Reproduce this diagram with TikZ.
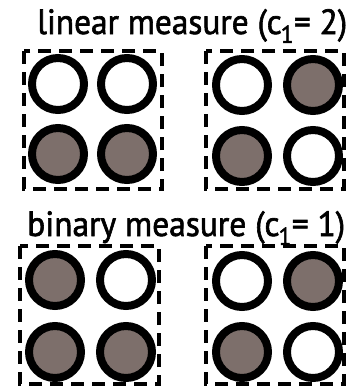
\documentclass[tikz,border=0pt]{standalone}
\usepackage{fontspec}
\setmainfont{PT Sans}
\newfontfamily\ttlfont{PT Sans}[FakeBold=1.8]
\begin{document}
\begin{tikzpicture}[x=1pt,y=-1pt,
  ttl/.style={font=\fontsize{35}{37}\selectfont\ttlfont, inner sep=0pt, anchor=base west},
  dbox/.style={draw, line width=3.8pt, dash pattern=on 13pt off 8pt},
  ball/.style={circle, draw, line width=8pt, minimum size=52pt, inner sep=0pt},
  full/.style={ball, fill=fillc},
  empty/.style={ball, fill=white}]
\definecolor{fillc}{HTML}{7D6F6B}
\useasboundingbox (0,0) rectangle (354,389);
% titles
\node[ttl] (t1) at (37,34) {\resizebox{310pt}{\height}{linear measure (c\kern-1pt\textsubscript{1}= 2)}};
\node[ttl] (t2) at (27,236) {\resizebox{318pt}{\height}{binary measure (c\kern-1pt\textsubscript{1}= 1)}};
% boxes
\draw[dbox] (24,51) rectangle (162,189);
\draw[dbox] (206,51) rectangle (344,189);
\draw[dbox] (20,246) rectangle (159,384);
\draw[dbox] (206,246) rectangle (344,384);
% box 1
\node[empty] (a1) at (58,84) {};
\node[empty] (a2) at (127,84) {};
\node[full] (a3) at (58,154) {};
\node[full] (a4) at (127,154) {};
% box 2
\node[empty] (b1) at (242,85) {};
\node[full] (b2) at (313,85) {};
\node[full] (b3) at (242,156) {};
\node[empty] (b4) at (313,156) {};
% box 3
\node[full] (c1) at (55,280) {};
\node[empty] (c2) at (126,280) {};
\node[full] (c3) at (55,352) {};
\node[full] (c4) at (126,352) {};
% box 4
\node[empty] (d1) at (242,281) {};
\node[full] (d2) at (313,281) {};
\node[full] (d3) at (242,352) {};
\node[empty] (d4) at (313,352) {};
\end{tikzpicture}
\end{document}
